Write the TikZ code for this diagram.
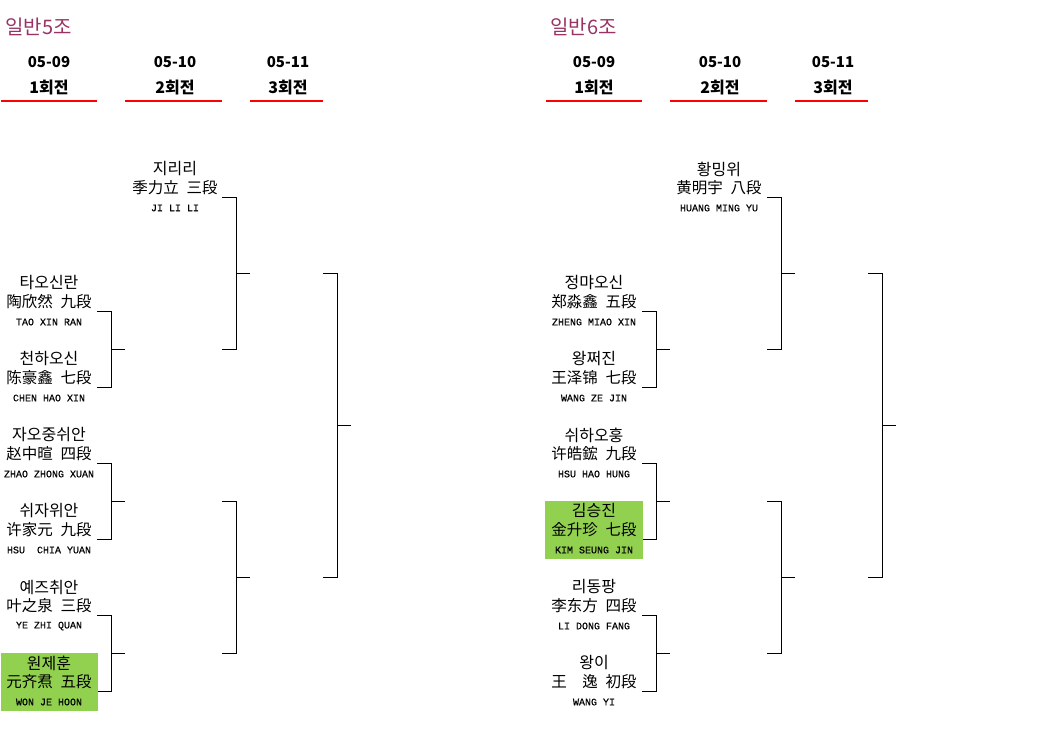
\documentclass[tikz,border=0pt]{standalone}
\usepackage{fontspec}
\usepackage{tikz}
\usetikzlibrary{calc}
\newfontfamily\cjk[WordSpace=2.2]{Noto Sans CJK KR}
\newfontfamily\romfont[FakeBold=0.6]{Liberation Mono}
\definecolor{grouptitle}{RGB}{153,51,102}
\definecolor{wingreen}{RGB}{146,208,80}

\begin{document}
\begin{tikzpicture}[x=1pt,y=-1pt,
        grouptitle/.style={anchor=west,inner sep=0pt,text=grouptitle,font=\cjk\fontsize{20}{20}\selectfont},
        datetext/.style={inner sep=0pt,font=\cjk\bfseries\fontsize{15}{15}\selectfont},
        roundtext/.style={inner sep=0pt,font=\cjk\bfseries\fontsize{16}{16}\selectfont},
        kor/.style={inner sep=0pt,font=\cjk\fontsize{16}{16}\selectfont},
        chn/.style={inner sep=0pt,font=\cjk\fontsize{15.5}{15.5}\selectfont},
        rom/.style={inner sep=0pt,font=\romfont\fontsize{10}{10}\selectfont},
        redline/.style={red,line width=2pt},
        bracketline/.style={black,line width=0.9pt}]
        \useasboundingbox (0,0) rectangle (1040,749);
        % group headers and brackets
        \foreach \g/\s/\t in {L/0/일반5조, R/545/일반6조} {
        \begin{scope}[xshift=\s pt]
        \node[grouptitle] (\g-title) at (5,27) {\t};
        \foreach \n/\x/\d/\a/\b in {1/49/05-09/1/97, 2/175/05-10/125/222, 3/288/05-11/250/323} {
                \node[datetext] (\g-date\n) at (\x,62) {\d};
                \node[roundtext] (\g-round\n) at (\x,88) {{\n}회전};
                \draw[redline] (\a,101) coordinate (\g-u\n) -- (\b,101) coordinate (\g-v\n);
        }
        \foreach \n/\y in {1/311,2/387,3/463,4/539,5/615,6/691}
                \coordinate (\g-a\n) at (97,\y);
        \foreach \n/\y in {1/197,2/349,3/501,4/653}
                \coordinate (\g-b\n) at (222,\y);
        \coordinate (\g-c1) at (323,273);
        \coordinate (\g-c2) at (323,577);
        \foreach \u/\v in {a1/a2,a3/a4,a5/a6,b1/b2,b3/b4,c1/c2} {
                \draw[bracketline] (\g-\u) -- ++(14,0) |- (\g-\v);
                \draw[bracketline] ($(\g-\u)!.5!(\g-\v)+(14,0)$) -- ++(14,0);
        }
        \end{scope}
        }
        % 일반5조
        \fill[wingreen] (1,653) rectangle (98,711);
        \node[kor] (L-s-k) at (175,169) {지리리};
        \node[chn] (L-s-c) at (175,188) {季力立 三段};
        \node[rom] (L-s-r) at (175,208) {JI LI LI};
        \foreach \n/\y/\k/\c/\e in {1/283/타오신란/陶欣然 九段/TAO XIN RAN,
                2/359/천하오신/陈豪鑫 七段/CHEN HAO XIN,
                3/435/자오중쉬안/赵中暄 四段/ZHAO ZHONG XUAN,
                4/511/쉬자위안/许家元 九段/HSU~~CHIA YUAN,
                5/587/예즈취안/叶之泉 三段/YE ZHI QUAN,
                6/663/원제훈/元齐焄 五段/WON JE HOON} {
                \node[kor] (L-p\n-k) at (49,\y) {\k};
                \node[chn] (L-p\n-c) at (49,\y+19) {\c};
                \node[rom] (L-p\n-r) at (49,\y+39) {\e};
        }
        % 일반6조
        \begin{scope}[xshift=545pt]
        \fill[wingreen] (0,501) rectangle (98,559);
        \node[kor] (R-s-k) at (174,169) {황밍위};
        \node[chn] (R-s-c) at (174,188) {黄明宇 八段};
        \node[rom] (R-s-r) at (174,208) {HUANG MING YU};
        \foreach \n/\y/\k/\c/\e in {1/283/정먀오신/郑淼鑫 五段/ZHENG MIAO XIN,
                2/359/왕쩌진/王泽锦 七段/WANG ZE JIN,
                3/435/쉬하오훙/许皓鋐 九段/HSU HAO HUNG,
                4/511/김승진/金升珍 七段/KIM SEUNG JIN,
                5/587/리동팡/李东方 四段/LI DONG FANG,
                6/663/왕이/王　逸 初段/WANG YI} {
                \node[kor] (R-p\n-k) at (49,\y) {\k};
                \node[chn] (R-p\n-c) at (49,\y+19) {\c};
                \node[rom] (R-p\n-r) at (49,\y+39) {\e};
        }
        \end{scope}
\end{tikzpicture}
\end{document}
